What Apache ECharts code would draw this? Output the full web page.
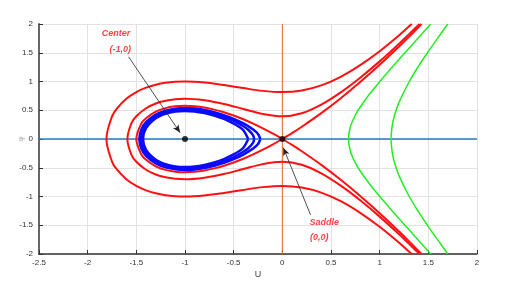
<!DOCTYPE html>
<html>
<head>
<meta charset="utf-8">
<title>Phase portrait</title>
<script src="https://cdn.jsdelivr.net/npm/echarts@6/dist/echarts.min.js"></script>
<style>
  html, body { margin: 0; padding: 0; background: #fff; }
  #chart { width: 513px; height: 289px; }
</style>
</head>
<body>
<div id="chart"></div>
<script>
// axis ranges
const uRange = [-2.5, 2]
const phiRange = [-2, 2]
const tickStep = 0.5

// upper halves of the trajectories (u, phi)
const outerU = [-1.807, -1.75, -1.7, -1.6, -1.5, -1.4, -1.3, -1.2, -1.1, -1.0, -0.8, -0.6, -0.4, -0.2, 0, 0.2, 0.4, 0.6, 0.8, 1.0, 1.2, 1.3, 1.33]
const outerPhi = [0, 0.394, 0.530, 0.704, 0.816, 0.893, 0.944, 0.977, 0.994, 1.0, 0.982, 0.939, 0.885, 0.837, 0.816, 0.843, 0.932, 1.082, 1.284, 1.527, 1.805, 1.955, 2.0]

const midU = [-1.592, -1.55, -1.5, -1.4, -1.3, -1.2, -1.1, -1.0, -0.8, -0.6, -0.4, -0.2, 0, 0.2, 0.4, 0.6, 0.8, 1.0, 1.2, 1.3, 1.41]
const midPhi = [0, 0.276, 0.395, 0.535, 0.618, 0.666, 0.692, 0.700, 0.674, 0.610, 0.523, 0.437, 0.395, 0.449, 0.599, 0.812, 1.066, 1.350, 1.658, 1.820, 2.0]

const loopU = [-1.5, -1.45, -1.4, -1.3, -1.2, -1.1, -1.0, -0.9, -0.8, -0.7, -0.6, -0.5, -0.4, -0.3, -0.2, -0.1, 0]
const loopPhi = [0, 0.265, 0.361, 0.475, 0.537, 0.568, 0.577, 0.569, 0.546, 0.511, 0.465, 0.408, 0.343, 0.268, 0.186, 0.097, 0]

const armU = [0, 0.1, 0.2, 0.4, 0.6, 0.8, 1.0, 1.2, 1.3, 1.43]
const armPhi = [0, 0.103, 0.213, 0.450, 0.710, 0.991, 1.291, 1.610, 1.776, 2.0]

const green1U = [0.68, 0.7, 0.75, 0.8, 0.9, 1.0, 1.1, 1.2, 1.3, 1.4, 1.525]
const green1Phi = [0, 0.216, 0.414, 0.556, 0.790, 0.997, 1.194, 1.386, 1.576, 1.766, 2.0]

const green2U = [1.117, 1.13, 1.15, 1.2, 1.3, 1.4, 1.5, 1.6, 1.7]
const green2Phi = [0, 0.243, 0.396, 0.642, 0.987, 1.269, 1.523, 1.764, 2.0]

const blue1U = [-1.469, -1.45, -1.4, -1.3, -1.2, -1.1, -1.0, -0.9, -0.8, -0.7, -0.6, -0.5, -0.4, -0.3, -0.25, -0.225]
const blue1Phi = [0, 0.162, 0.294, 0.426, 0.494, 0.528, 0.538, 0.529, 0.505, 0.466, 0.415, 0.350, 0.271, 0.167, 0.089, 0]
const blue2U = [-1.452, -1.4, -1.3, -1.2, -1.1, -1.0, -0.9, -0.8, -0.7, -0.6, -0.5, -0.4, -0.35, -0.3, -0.29]
const blue2Phi = [0, 0.250, 0.397, 0.469, 0.505, 0.515, 0.506, 0.480, 0.440, 0.385, 0.314, 0.222, 0.161, 0.063, 0]
const blue3U = [-1.431, -1.4, -1.3, -1.2, -1.1, -1.0, -0.9, -0.8, -0.7, -0.6, -0.5, -0.45, -0.4, -0.35]
const blue3Phi = [0, 0.191, 0.362, 0.440, 0.478, 0.489, 0.480, 0.452, 0.409, 0.349, 0.269, 0.219, 0.153, 0]

// equilibrium points and the two reference lines through the saddle
const fixedPoints = [[-1, 0], [0, 0]]
const uLine = [[-2.5, 0], [2, 0]]
const phiLine = [[0, -2], [0, 2]]

const FONT = "'Liberation Sans Narrow', 'Liberation Sans', Arial, sans-serif"

// the lower half of every trajectory is the mirror of the upper half
const branch = (us, phis) => {
  const upper = us.map((u, i) => [u, phis[i]])
  const lower = upper.slice(1).map(p => [p[0], -p[1]]).reverse()
  return lower.concat(upper)
}
const half = (us, phis, sign) => us.map((u, i) => [u, sign * phis[i]])

const curve = (data, color, width, smooth, z) => ({
  type: 'line',
  data: data,
  smooth: smooth,
  symbol: 'none',
  silent: true,
  z: z,
  lineStyle: { color: color, width: width }
})

const RED = '#ff1010'
const BLUE = '#0a0aff'
const GREEN = '#22ee22'

const chart = echarts.init(document.getElementById('chart'))

chart.setOption({
  animation: false,
  backgroundColor: '#fff',
  grid: { left: 39, right: 36, top: 24, bottom: 35, outerBoundsMode: 'none', containLabel: false },
  xAxis: {
    type: 'value',
    min: uRange[0],
    max: uRange[1],
    interval: tickStep,
    name: 'U',
    nameLocation: 'middle',
    nameGap: 16,
    nameMoveOverlap: false,
    nameTextStyle: { color: '#444', fontSize: 9, fontFamily: FONT },
    axisLine: { onZero: false, lineStyle: { color: '#333', width: 1.5 } },
    axisTick: { inside: true, length: 4, lineStyle: { color: '#333' } },
    axisLabel: { color: '#333', fontSize: 8, margin: 5, fontFamily: FONT },
    splitLine: { lineStyle: { color: '#e2e2e2', width: 1 } }
  },
  yAxis: {
    type: 'value',
    min: phiRange[0],
    max: phiRange[1],
    interval: tickStep,
    name: 'φ',
    nameLocation: 'middle',
    nameGap: 14,
    nameRotate: 90,
    nameMoveOverlap: false,
    nameTextStyle: { color: '#aaa', fontSize: 8, fontFamily: FONT },
    axisLine: { onZero: false, lineStyle: { color: '#666', width: 2 } },
    axisTick: { inside: true, length: 4, lineStyle: { color: '#333' } },
    axisLabel: { color: '#333', fontSize: 8, margin: 6, fontFamily: FONT },
    splitLine: { lineStyle: { color: '#e2e2e2', width: 1 } }
  },
  series: [
    curve(uLine, '#2a7bbd', 1.5, false, 1),
    curve(phiLine, '#f4632a', 1, false, 1),
    curve(branch(outerU, outerPhi), RED, 2, 0.35, 3),
    curve(branch(midU, midPhi), RED, 2, 0.35, 3),
    curve(branch(loopU, loopPhi), RED, 2, 0.35, 3),
    curve(half(armU, armPhi, 1), RED, 2, 0.35, 3),
    curve(half(armU, armPhi, -1), RED, 2, 0.35, 3),
    curve(branch(blue1U, blue1Phi), BLUE, 2.5, 0.35, 3),
    curve(branch(blue2U, blue2Phi), BLUE, 2.5, 0.35, 3),
    curve(branch(blue3U, blue3Phi), BLUE, 2.5, 0.35, 3),
    curve(branch(green1U, green1Phi), GREEN, 1.5, 0.35, 3),
    curve(branch(green2U, green2Phi), GREEN, 1.5, 0.35, 3),
    {
      type: 'scatter',
      data: fixedPoints,
      symbolSize: 6,
      itemStyle: { color: '#000' },
      silent: true,
      z: 5,
      markLine: {
        silent: true,
        symbol: ['none', 'arrow'],
        symbolSize: [5, 8],
        label: { show: false },
        lineStyle: { color: '#222', width: 0.8, type: 'solid' },
        data: [
          [{ coord: [-1.58, 1.43] }, { coord: [-1.05, 0.11] }],
          [{ coord: [0.29, -1.32] }, { coord: [0.01, -0.15] }]
        ]
      }
    },
    {
      type: 'scatter',
      symbolSize: 1,
      itemStyle: { color: 'transparent' },
      silent: true,
      z: 6,
      data: [
        { value: [-1.71, 1.83], name: 'Center' },
        { value: [-1.665, 1.55], name: '(-1,0)' },
        { value: [0.43, -1.46], name: 'Saddle' },
        { value: [0.38, -1.72], name: '(0,0)' }
      ],
      label: {
        show: true,
        position: 'inside',
        formatter: p => p.name,
        color: RED,
        fontSize: 9,
        fontStyle: 'italic',
        fontWeight: 'bold',
        fontFamily: FONT
      }
    }
  ]
})
</script>
</body>
</html>
